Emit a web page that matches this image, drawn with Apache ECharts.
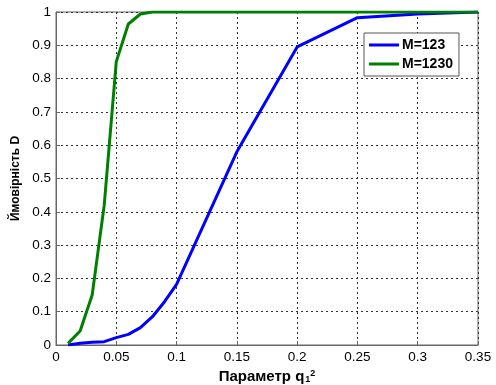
<!DOCTYPE html>
<html><head><meta charset="utf-8">
<script src="https://cdn.jsdelivr.net/npm/echarts@6/dist/echarts.min.js"></script>
<style>html,body{margin:0;padding:0;background:#fff}#c{width:496px;height:385px}</style>
</head><body><div id="c"></div>
<script>
const xM123 = [0.01,0.02,0.03,0.04,0.05,0.06,0.07,0.08,0.09,0.1,0.15,0.2,0.25,0.3,0.35];
const yM123 = [0.0,0.005,0.008,0.01,0.022,0.032,0.052,0.085,0.13,0.182,0.58,0.895,0.983,0.994,1.0];
const xM1230 = [0.01,0.02,0.03,0.04,0.05,0.06,0.07,0.08,0.1,0.15,0.2,0.25,0.3,0.35];
const yM1230 = [0.005,0.042,0.15,0.42,0.851,0.964,0.994,1.0,1.0,1.0,1.0,1.0,1.0,1.0];
const seriesNames = ['M=123','M=1230'];
const xTicks = [0,0.05,0.1,0.15,0.2,0.25,0.3,0.35];
const yTicks = [0,0.1,0.2,0.3,0.4,0.5,0.6,0.7,0.8,0.9,1];

const chart = echarts.init(document.getElementById('c'));
const fmt = v => String(parseFloat(v.toFixed(2)));
const FF = 'Liberation Sans, Arial';
chart.setOption({
  animation:false,
  backgroundColor:'#fff',
  grid:{left:56,right:18,top:12,bottom:40,show:true,borderColor:'#666',borderWidth:1,backgroundColor:'transparent',
    containLabel:false,outerBoundsMode:'none'},
  legend:{
    data:seriesNames, orient:'vertical', left:364, top:33,
    backgroundColor:'#fff', borderColor:'#555', borderWidth:1, padding:[5,6,5,5],
    itemWidth:30, itemHeight:3, itemGap:5, icon:'rect',
    textStyle:{fontFamily:FF,fontWeight:'bold',fontSize:14,color:'#000',padding:[0,0,0,-2]}
  },
  xAxis:{type:'value',min:xTicks[0],max:xTicks[xTicks.length-1],interval:0.05,
    name:'{m|Параметр q}{sub|1}{sup|2}',nameLocation:'middle',nameGap:19,
    nameTextStyle:{fontFamily:FF,fontWeight:'bold',fontSize:15,color:'#000',
      rich:{
        m:{fontFamily:FF,fontWeight:'bold',fontSize:15,color:'#000'},
        sub:{fontFamily:FF,fontWeight:'bold',fontSize:9,color:'#000',verticalAlign:'bottom',padding:[6,0,0,1]},
        sup:{fontFamily:FF,fontWeight:'bold',fontSize:9,color:'#000',verticalAlign:'top',padding:[0,0,6,0]}
      }},
    axisLine:{lineStyle:{color:'#666'}},
    axisTick:{inside:true,length:4,lineStyle:{color:'#666'}},
    axisLabel:{formatter:fmt,color:'#000',fontFamily:FF,fontSize:13.5,margin:5},
    splitLine:{show:true,lineStyle:{color:'#333',type:[2,3],width:1}}
  },
  yAxis:{type:'value',min:yTicks[0],max:yTicks[yTicks.length-1],interval:0.1,
    name:'Ймовірність D',nameLocation:'middle',nameGap:29,
    nameTextStyle:{fontFamily:FF,fontWeight:'bold',fontSize:12,color:'#000'},
    axisLine:{show:true,lineStyle:{color:'#666'}},
    axisTick:{show:true,inside:true,length:4,lineStyle:{color:'#666'}},
    axisLabel:{formatter:fmt,color:'#000',fontFamily:FF,fontSize:13.5,margin:5},
    splitLine:{show:true,lineStyle:{color:'#333',type:[2,3],width:1}}
  },
  series:[
    {name:seriesNames[0],type:'line',showSymbol:false,data:xM123.map((x,i)=>[x,yM123[i]]),
      lineStyle:{color:'#0000ff',width:3},itemStyle:{color:'#0000ff'},z:3},
    {name:seriesNames[1],type:'line',showSymbol:false,data:xM1230.map((x,i)=>[x,yM1230[i]]),
      lineStyle:{color:'#008000',width:3},itemStyle:{color:'#008000'},z:4}
  ]
});
</script></body></html>
